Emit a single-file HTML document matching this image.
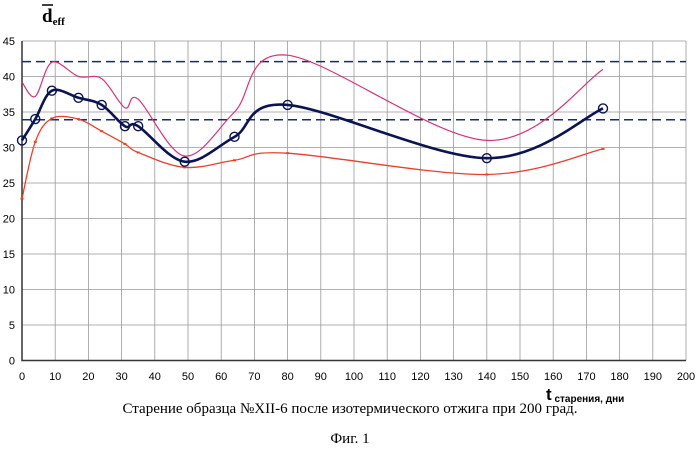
<!DOCTYPE html>
<html><head><meta charset="utf-8"><style>
body{margin:0;background:#fff;width:700px;height:451px;overflow:hidden}
svg{display:block;font-family:"Liberation Sans",Arial,sans-serif}
</style></head><body>
<svg id="c" width="700" height="451">
<text x="42" y="22" font-family="Liberation Serif,serif" font-weight="bold" font-size="19">d<tspan font-size="11" dy="3">eff</tspan></text>
<line x1="42" y1="5" x2="53" y2="5" stroke="#000" stroke-width="1.5"/>
<text x="546" y="400" font-weight="bold" font-size="17">t<tspan font-size="10" dy="2"> старения</tspan><tspan font-size="10">, дни</tspan></text>
<text x="350" y="413" text-anchor="middle" font-family="Liberation Serif,serif" font-size="15">Старение образца №XII-6 после изотермического отжига при 200 град.</text>
<text x="350" y="443" text-anchor="middle" font-family="Liberation Serif,serif" font-size="15">Фиг. 1</text>
</svg>
<script>
const xTicks=[0,10,20,30,40,50,60,70,80,90,100,110,120,130,140,150,160,170,180,190,200];
const yTicks=[0,5,10,15,20,25,30,35,40,45];
const days=[0,4,9,17,24,31,35,49,64,80,140,175];
const meanVals=[31,34,38,37,36,33,33,28,31.5,36,28.5,35.5];
const upperVals=[39.2,37.2,42,40,39.7,35.6,36.8,28.8,35,43,31,41];
const lowerVals=[22.8,30.8,34.1,34,32.3,30.5,29.3,27.2,28.2,29.2,26.2,29.8];
const refLines=[42.1,33.9];
const X=v=>22+v*(664/200), Y=v=>360.5-v*(319.5/45);
const svg=document.getElementById('c'),NS='http://www.w3.org/2000/svg';
function mk(t,a,p){const e=document.createElementNS(NS,t);for(const k in a)e.setAttribute(k,a[k]);(p||svg).appendChild(e);return e;}
const g=mk('g',{});


xTicks.forEach(t=>{const l=mk('line',{x1:X(t),x2:X(t),y1:Y(45),y2:Y(0),stroke:'#999','stroke-width':0.8},g);


const tx=mk('text',{x:X(t),y:380,'text-anchor':'middle','font-size':11});tx.textContent=t;

});
yTicks.forEach(t=>{const l=mk('line',{x1:X(0),x2:X(200),y1:Y(t),y2:Y(t),stroke:'#999','stroke-width':0.8},g);


const tx=mk('text',{x:15,y:Y(t)+4,'text-anchor':'end','font-size':11});tx.textContent=t;

});
const ax=mk('path',{d:`M${X(0)} ${Y(45)}V${Y(0)}H${X(200)}`,stroke:'#333',fill:'none','stroke-width':1.5});


refLines.forEach(v=>{const l=mk('line',{x1:X(0),x2:X(200),y1:Y(v),y2:Y(v),stroke:'#1a2a6c','stroke-width':1.5,'stroke-dasharray':'9,5'});

});
function smooth(vals){const p=days.map((d,i)=>[X(d),Y(vals[i])]);let d=`M${p[0][0]} ${p[0][1]}`;
for(let i=0;i<p.length-1;i++){const p0=p[i-1]||p[i],p1=p[i],p2=p[i+1],p3=p[i+2]||p2;
d+=`C${p1[0]+(p2[0]-p0[0])/6} ${p1[1]+(p2[1]-p0[1])/6} ${p2[0]-(p3[0]-p1[0])/6} ${p2[1]-(p3[1]-p1[1])/6} ${p2[0]} ${p2[1]}`;}return d;}
const up=mk('path',{d:smooth(upperVals),stroke:'#d6337a',fill:'none','stroke-width':1.2});


const lo=mk('path',{d:smooth(lowerVals),stroke:'#e8402a',fill:'none','stroke-width':1.3});


lowerVals.forEach((v,i)=>{const r=mk('rect',{x:X(days[i])-1.5,y:Y(v)-1,width:3,height:2,fill:'#e8402a'});

});
const mn=mk('path',{d:smooth(meanVals),stroke:'#0b1450',fill:'none','stroke-width':2.6});


meanVals.forEach((v,i)=>{const c=mk('circle',{cx:X(days[i]),cy:Y(v),r:4.5,fill:'none',stroke:'#0b1450','stroke-width':1.4});

});
</script>
</body></html>
